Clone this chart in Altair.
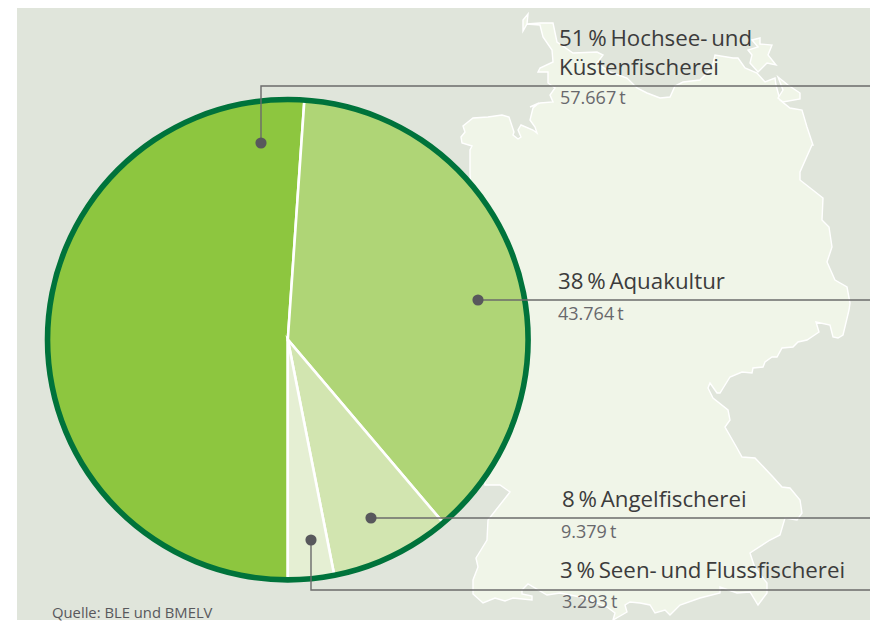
import math
import altair as alt
import pandas as pd

# ---- values
SOURCES = ["Hochsee- und Küstenfischerei", "Aquakultur", "Angelfischerei", "Seen- und Flussfischerei"]
SHARE_DRAWN = [51.1, 37.7, 8.1, 3.1]
SLICE_COLORS = ["#8DC63F", "#AFD576", "#D2E5B0", "#E5EFD3"]

HEAD_TEXT = ["51\u2006%\u2006Hochsee-\u2006und", "Küstenfischerei", "38\u2006%\u2006Aquakultur", "8\u2006%\u2006Angelfischerei", "3\u2006%\u2006Seen-\u2006und\u2006Flussfischerei"]
TONNES_TEXT = ["57.667\u2009t", "43.764\u2009t", "9.379\u2009t", "3.293\u2009t"]
SOURCE_TEXT = ["Quelle: BLE und BMELV"]

# ---- background map outline (Germany), in picture units
MAIN_X = [528,523,523,527,540,553,557,573,597,603,597,610,627,637,647,660,670,675,683,700,712,715,733,738,745,757,765,775,776,780,790,802,807,813,
          812,800,800,823,822,829,832,827,835,847,850,849,843,838,833,830,816,819,807,798,793,782,777,772,765,763,753,752,742,730,720,717,710,708,713,728,730,
          725,737,742,755,773,782,790,800,802,797,785,780,770,750,755,767,767,758,750,737,720,720,700,680,670,665,655,650,640,630,625,627,613,615,607,585,560,547,528,522,522,532,532,513,505,495,483,473,473,478,476,487,488,510,500,485,
          470,470,472,462,461,465,463,473,488,502,509,514,513,518,521,518,521,533,537,535,530,533,539,530,540,553,550,555,548,548,538,540,553,552,543,540,527]
MAIN_Y = [14,20,31,24,23,23,42,53,52,55,63,72,78,88,93,98,97,86,82,80,68,55,58,58,68,73,82,78,85,100,108,110,127,145,
          145,172,180,198,220,227,247,262,280,287,303,310,335,338,337,325,322,332,340,342,347,348,357,357,362,367,368,373,372,377,393,393,383,388,398,410,420,
          427,448,457,458,477,487,488,500,513,520,518,535,540,553,568,583,593,605,592,593,587,593,598,605,615,610,613,605,603,602,605,612,625,613,607,598,593,595,584,590,594,596,600,598,601,598,603,594,580,567,558,540,520,492,485,485,
          173,150,146,143,137,132,126,118,117,115,117,132,135,139,137,130,125,130,133,127,120,108,103,107,103,102,95,88,83,72,72,68,62,50,37,25,24]
RUEGEN_X = [752,760,760,772,768,776,767,758,750,752,748,758]
RUEGEN_Y = [40,38,44,45,55,65,63,72,63,55,50,47]
USEDOM_X = [778,788,800,800,783,778,783]
USEDOM_Y = [77,85,93,99,102,98,90]

# ---- layout of the annotation
PAGE_RIGHT = 870
PAGE_BOTTOM = 620
PANEL = dict(x=17, x2=PAGE_RIGHT, y=8, y2=PAGE_BOTTOM)
PIE_CX, PIE_CY = 287.8, 339.7
HEAD_X = [559, 559, 558, 562, 560]
HEAD_Y = [46, 75, 289, 507, 578]
TON_X = [560, 558, 561, 562]
TON_Y = [104, 320, 538, 608]
DOT_X = [261, 478, 371, 311]
DOT_Y = [143, 300, 518, 540]
LEAD_X = [[261, 261, PAGE_RIGHT], [478, PAGE_RIGHT], [371, PAGE_RIGHT], [311, 311, PAGE_RIGHT]]
LEAD_Y = [[143, 86, 86], [300, 300], [518, 518], [540, 590, 590]]

X = alt.X("x:Q", scale=alt.Scale(domain=[8, PAGE_RIGHT], nice=False, zero=False), axis=None)
Y = alt.Y("y:Q", scale=alt.Scale(domain=[PAGE_BOTTOM, 8], nice=False, zero=False), axis=None)

panel = alt.Chart(pd.DataFrame([PANEL])).mark_rect(color="#E0E5DB").encode(
    x=X, x2="x2:Q", y=Y, y2="y2:Q")

map_rows = []
for name, xs, ys in [("main", MAIN_X, MAIN_Y), ("ruegen", RUEGEN_X, RUEGEN_Y), ("usedom", USEDOM_X, USEDOM_Y)]:
    for i, (a, b) in enumerate(zip(xs, ys)):
        map_rows.append({"part": name, "i": i, "x": a, "y": min(b, PAGE_BOTTOM)})
germany = alt.Chart(pd.DataFrame(map_rows)).mark_line(
    fill="#F0F5E8", stroke="#FFFFFF", strokeWidth=1.4, interpolate="linear-closed"
).encode(x=X, y=Y, detail="part:N", order="i:Q")

pie_df = pd.DataFrame({"source": SOURCES, "share": SHARE_DRAWN, "rank": range(4),
                       "x": [PIE_CX] * 4, "y": [PIE_CY] * 4})
slices = alt.Chart(pie_df).mark_arc(outerRadius=240, stroke="#FFFFFF", strokeWidth=2.6).encode(
    x=X, y=Y,
    theta=alt.Theta("share:Q", stack=True, scale=alt.Scale(domain=[0, 100], range=[math.pi, 3 * math.pi])),
    color=alt.Color("source:N", legend=None, scale=alt.Scale(domain=SOURCES, range=SLICE_COLORS)),
    order=alt.Order("rank:Q"),
)
ring = alt.Chart(pd.DataFrame({"x": [PIE_CX], "y": [PIE_CY]})).mark_arc(
    theta=0, theta2=2 * math.pi, innerRadius=237.4, outerRadius=243, color="#00733B"
).encode(x=X, y=Y)

lead_rows = []
for k, (xs, ys) in enumerate(zip(LEAD_X, LEAD_Y)):
    for i, (a, b) in enumerate(zip(xs, ys)):
        lead_rows.append({"k": k, "i": i, "x": a, "y": b})
leaders = alt.Chart(pd.DataFrame(lead_rows)).mark_line(color="#6B6B6B", strokeWidth=1.4).encode(
    x=X, y=Y, detail="k:N", order="i:Q")
dots = alt.Chart(pd.DataFrame({"x": DOT_X, "y": DOT_Y})).mark_circle(
    size=125, color="#58585C", opacity=1).encode(x=X, y=Y)

heads = alt.Chart(pd.DataFrame({"t": HEAD_TEXT, "x": HEAD_X, "y": HEAD_Y})).mark_text(
    font="Open Sans", fontSize=22.3, color="#3C3C3C", align="left", baseline="alphabetic"
).encode(x=X, y=Y, text="t:N")
tons = alt.Chart(pd.DataFrame({"t": TONNES_TEXT, "x": TON_X, "y": TON_Y})).mark_text(
    font="Open Sans", fontSize=18, color="#68686C", align="left", baseline="alphabetic"
).encode(x=X, y=Y, text="t:N")
source = alt.Chart(pd.DataFrame({"t": SOURCE_TEXT, "x": [52], "y": [618]})).mark_text(
    font="Open Sans", fontSize=14.8, color="#58585C", align="left", baseline="alphabetic"
).encode(x=X, y=Y, text="t:N")

chart = alt.layer(panel, germany, slices, ring, leaders, dots, heads, tons, source).resolve_scale(
    color="independent"
).properties(width=PAGE_RIGHT - 8, height=PAGE_BOTTOM - 8, padding=0, background="#FFFFFF").configure_view(stroke=None)

chart.save("out.html", embed_options={"renderer": "svg", "actions": False})
